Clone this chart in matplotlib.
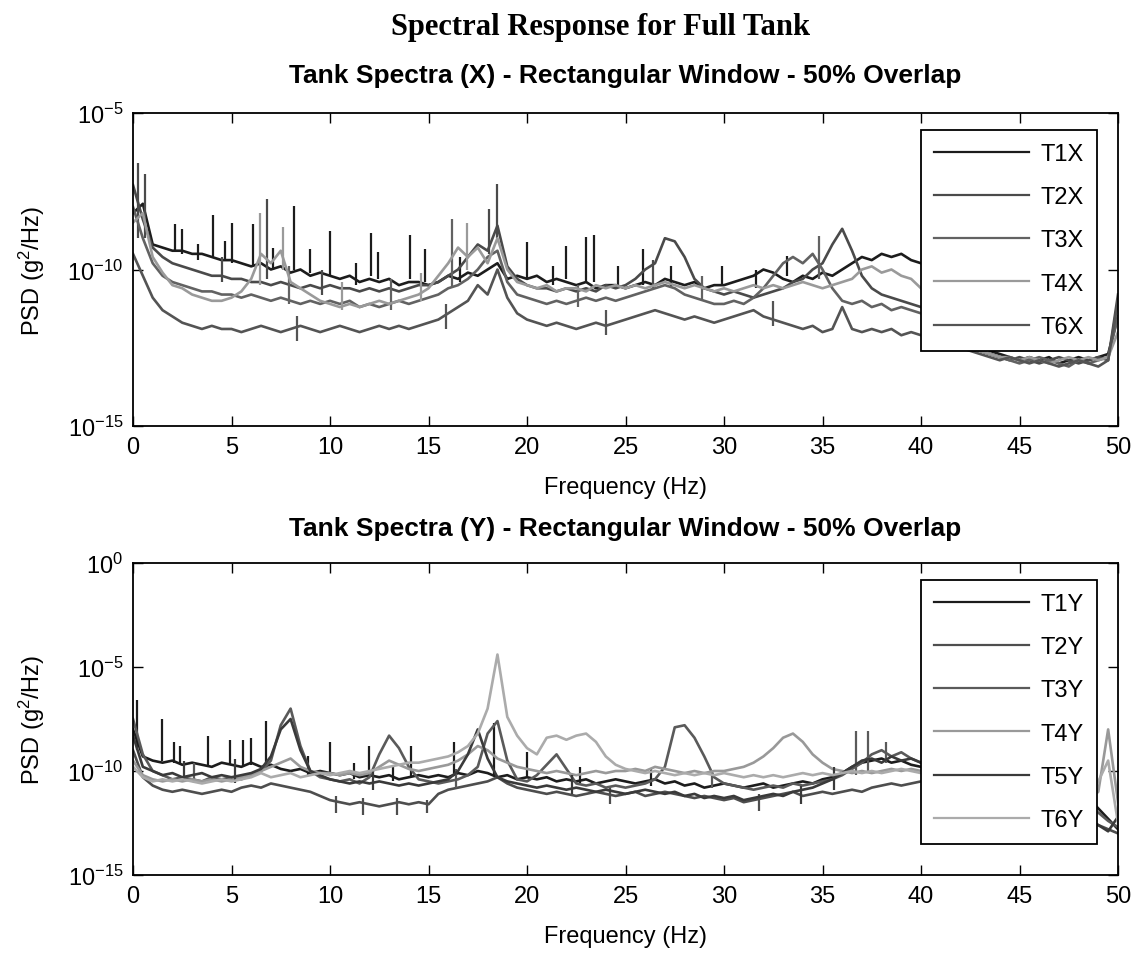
import numpy as np
import matplotlib.pyplot as plt

plt.rcParams['font.family'] = ['Liberation Sans', 'DejaVu Sans']
plt.rcParams['mathtext.default'] = 'regular'

# frequency grid (Hz), values are log10 PSD (g^2/Hz)
freq = np.linspace(0, 50, 101)

T1X = [-8.2, -7.9, -9.2, -9.3, -9.4, -9.4, -9.5, -9.5, -9.6, -9.7,
       -9.7, -9.8, -9.9, -9.8, -10.0, -9.9, -10.1, -10.0, -10.2, -10.1,
       -10.2, -10.3, -10.2, -10.4, -10.3, -10.4, -10.3, -10.5, -10.4, -10.4,
       -10.5, -10.4, -10.2, -10.3, -10.1, -10.2, -10.0, -9.8, -10.3, -10.2,
       -10.3, -10.2, -10.4, -10.3, -10.4, -10.5, -10.4, -10.6, -10.5, -10.5,
       -10.6, -10.5, -10.4, -10.5, -10.3, -10.4, -10.5, -10.4, -10.6, -10.5,
       -10.5, -10.4, -10.3, -10.2, -10.0, -10.1, -10.3, -10.4, -10.2, -10.3,
       -10.1, -10.2, -10.0, -9.8, -9.6, -9.7, -9.5, -9.6, -9.5, -9.7,
       -9.8, -10.0, -10.4, -10.9, -11.5, -12.0, -12.4, -12.6, -12.7, -12.8,
       -12.9, -12.8, -12.9, -12.8, -13.0, -12.9, -12.8, -12.9, -12.8, -12.7,
       -11.5]
T2X = [-7.3, -8.4, -9.3, -9.6, -9.8, -9.9, -10.0, -10.1, -10.2, -10.2,
       -10.3, -10.3, -10.4, -10.4, -10.5, -10.4, -10.5, -10.6, -10.5, -10.6,
       -10.5, -10.6, -10.6, -10.7, -10.6, -10.7, -10.6, -10.7, -10.6, -10.5,
       -10.5, -10.4, -10.2, -10.0, -9.6, -9.2, -9.4, -8.6, -9.9, -10.3,
       -10.5, -10.6, -10.6, -10.7, -10.6, -10.7, -10.6, -10.7, -10.5, -10.6,
       -10.5, -10.3, -10.0, -9.8, -9.0, -9.1, -9.6, -10.3, -10.6, -10.7,
       -10.8, -10.7, -10.8, -10.9, -10.8, -10.7, -10.6, -10.4, -10.3, -10.0,
       -9.8, -9.2, -8.7, -9.4, -10.2, -10.6, -10.8, -10.9, -11.0, -11.1,
       -11.2, -11.4, -11.6, -11.9, -12.2, -12.4, -12.6, -12.7, -12.8, -12.9,
       -12.8, -12.9, -13.0, -12.9, -12.8, -12.9, -13.0, -12.9, -12.8, -12.9,
       -10.8]
T3X = [-8.0, -9.0, -9.8, -10.2, -10.4, -10.5, -10.6, -10.7, -10.7, -10.8,
       -10.8, -10.9, -10.8, -10.9, -11.0, -10.9, -11.0, -11.1, -11.0, -11.1,
       -11.0, -11.1, -11.0, -11.2, -11.1, -11.2, -11.1, -11.0, -11.1, -11.0,
       -10.9, -10.8, -10.6, -10.5, -10.3, -10.0, -9.6, -9.4, -10.4, -10.8,
       -10.9, -11.0, -11.1, -11.0, -11.1, -11.0, -10.9, -11.0, -10.9, -11.0,
       -10.9, -10.8, -10.7, -10.6, -10.5, -10.6, -10.8, -10.9, -11.0, -11.1,
       -11.1, -11.0, -11.1, -10.9, -10.6, -10.2, -9.8, -9.6, -9.8, -9.5,
       -10.0, -10.6, -11.0, -11.1, -11.0, -11.2, -11.1, -11.3, -11.2, -11.3,
       -11.4, -11.6, -11.9, -12.1, -12.3, -12.5, -12.6, -12.7, -12.8, -12.9,
       -13.0, -12.9, -12.8, -12.9, -13.0, -13.1, -12.9, -13.0, -12.9, -12.8,
       -11.5]
T4X = [-8.5, -8.2, -9.6, -10.1, -10.5, -10.6, -10.8, -10.9, -11.0, -11.0,
       -10.9, -10.7, -10.3, -9.5, -9.8, -9.4, -10.4, -10.6, -10.8, -11.0,
       -11.1, -11.2, -11.1, -11.2, -11.1, -11.0, -11.1, -11.0, -10.9, -10.8,
       -10.6, -10.2, -9.8, -9.3, -9.6, -9.3, -9.8, -9.0, -10.0, -10.4,
       -10.5, -10.6, -10.5, -10.7, -10.6, -10.6, -10.7, -10.5, -10.6, -10.5,
       -10.6, -10.5, -10.6, -10.5, -10.4, -10.5, -10.6, -10.5, -10.6, -10.7,
       -10.6, -10.7, -10.6, -10.5, -10.6, -10.5, -10.6, -10.5, -10.4, -10.5,
       -10.6, -10.5, -10.4, -10.3, -10.0, -9.9, -10.1, -10.0, -10.2, -10.3,
       -10.6, -11.0, -11.4, -11.8, -12.1, -12.4, -12.6, -12.7, -12.8, -12.8,
       -12.9, -12.8, -12.9, -13.0, -12.9, -12.8, -12.9, -12.8, -12.9, -12.8,
       -12.0]
T6X = [-9.5, -10.2, -10.9, -11.3, -11.5, -11.7, -11.8, -11.9, -11.8, -11.9,
       -11.9, -12.0, -11.9, -11.8, -11.9, -12.0, -11.9, -11.8, -11.9, -12.0,
       -11.9, -11.8, -11.9, -12.0, -11.9, -11.8, -11.9, -11.8, -11.9, -11.8,
       -11.7, -11.6, -11.4, -11.2, -11.0, -10.5, -10.8, -10.0, -10.9, -11.4,
       -11.6, -11.7, -11.8, -11.7, -11.8, -11.9, -11.8, -11.7, -11.8, -11.7,
       -11.6, -11.5, -11.4, -11.3, -11.4, -11.5, -11.6, -11.5, -11.6, -11.7,
       -11.6, -11.5, -11.4, -11.3, -11.5, -11.6, -11.7, -11.8, -11.9, -11.8,
       -12.0, -11.9, -11.2, -11.9, -12.0, -11.9, -12.0, -11.9, -12.1, -12.0,
       -12.1, -12.2, -12.3, -12.4, -12.5, -12.6, -12.7, -12.8, -12.9, -12.8,
       -12.9, -13.0, -12.9, -13.0, -13.1, -13.0, -12.9, -13.0, -13.1, -12.9,
       -11.0]

# narrow spikes: (freq, low, high) in log10
T1X_spikes = [(2.13, -9.4, -8.55), (2.5, -9.5, -8.7), (4.06, -9.6, -8.26), (4.67, -9.7, -9.1),
              (5.0, -9.8, -8.5), (6.1, -9.9, -8.55), (8.17, -10.0, -7.97), (9.0, -10.1, -9.35),
              (10.0, -10.2, -8.77), (12.1, -10.2, -8.83), (12.45, -10.3, -9.45), (14.06, -10.3, -8.9),
              (14.8, -10.4, -9.35), (20.0, -10.3, -9.12), (22.0, -10.3, -9.25), (23.0, -10.4, -8.97),
              (23.4, -10.4, -8.9), (24.6, -10.5, -9.9), (25.9, -10.5, -9.35), (29.9, -10.5, -9.9),
              (33.2, -10.2, -9.56), (3.3, -9.7, -9.2), (7.1, -10.0, -9.3), (11.3, -10.5, -9.8),
              (16.6, -10.4, -9.6), (21.3, -10.5, -9.9), (27.3, -10.6, -9.9), (31.6, -10.6, -10.0)]
T2X_spikes = [(0.25, -9.0, -6.6), (0.6, -9.0, -6.95), (6.8, -10.3, -7.75), (18.07, -9.5, -8.07),
              (18.5, -9.0, -7.27), (4.5, -10.4, -9.6), (9.6, -10.8, -10.0), (26.4, -10.6, -9.7)]
T3X_spikes = [(34.8, -10.3, -8.93), (16.2, -10.6, -8.39), (7.9, -11.1, -9.9), (13.1, -11.3, -10.3),
              (22.6, -11.2, -10.5), (28.9, -11.0, -10.2)]
T4X_spikes = [(6.45, -10.5, -8.2), (7.6, -10.0, -8.65), (16.95, -10.0, -8.5), (10.6, -11.3, -10.4),
              (14.6, -11.0, -10.1)]
T6X_spikes = [(8.3, -12.3, -11.5), (15.9, -11.9, -11.1), (24.0, -12.1, -11.3), (32.5, -11.8, -11.0)]

T1Y = [-8.0, -9.3, -9.5, -9.6, -9.5, -9.7, -9.6, -9.7, -9.8, -9.6,
       -9.7, -9.8, -9.6, -9.8, -9.7, -9.9, -10.0, -9.9, -10.1, -10.0,
       -10.1, -10.2, -10.1, -10.3, -10.2, -10.3, -10.2, -10.4, -10.3, -10.2,
       -10.3, -10.2, -10.3, -10.1, -10.2, -10.0, -10.1, -10.3, -10.2, -10.4,
       -10.3, -10.4, -10.3, -10.5, -10.4, -10.5, -10.4, -10.6, -10.5, -10.4,
       -10.5, -10.6, -10.5, -10.4, -10.6, -10.5, -10.7, -10.6, -10.8, -10.7,
       -10.6, -10.7, -10.8, -10.7, -10.6, -10.8, -10.7, -10.6, -10.5, -10.6,
       -10.4, -10.3, -10.1, -9.8, -9.6, -9.5, -9.4, -9.6, -9.5, -9.7,
       -9.8, -9.7, -9.9, -10.0, -9.9, -10.1, -10.0, -10.2, -10.1, -10.3,
       -10.2, -10.4, -10.3, -10.5, -10.6, -10.8, -11.0, -11.3, -11.8, -12.3,
       -12.8]
T2Y = [-9.0, -10.3, -10.7, -10.9, -11.0, -10.9, -11.0, -11.1, -11.0, -10.9,
       -11.0, -10.8, -10.7, -10.8, -10.6, -10.7, -10.8, -10.9, -11.0, -11.2,
       -11.4, -11.5, -11.6, -11.5, -11.6, -11.7, -11.6, -11.5, -11.6, -11.5,
       -11.6, -11.1, -10.9, -10.8, -10.7, -10.6, -10.5, -10.3, -10.6, -10.8,
       -10.9, -11.0, -11.1, -11.0, -11.1, -11.2, -11.1, -11.0, -11.1, -11.2,
       -11.1, -11.0, -11.2, -11.1, -11.0, -11.1, -11.2, -11.3, -11.2, -11.3,
       -11.4, -11.3, -11.5, -11.4, -11.3, -11.2, -11.1, -11.0, -11.2, -11.1,
       -11.0, -11.1, -11.0, -10.9, -11.0, -10.8, -10.7, -10.6, -10.7, -10.6,
       -10.5, -10.6, -10.7, -10.8, -10.9, -11.0, -11.1, -11.2, -11.3, -11.4,
       -11.5, -11.6, -11.7, -11.8, -11.9, -12.0, -12.2, -12.4, -12.6, -12.8,
       -13.0]
T3Y = [-7.5, -9.2, -10.0, -10.2, -10.4, -10.3, -10.4, -10.5, -10.3, -10.4,
       -10.3, -10.4, -10.2, -10.0, -9.5, -7.8, -7.0, -8.8, -10.0, -10.3,
       -10.4, -10.5, -10.4, -10.6, -10.3, -9.2, -8.3, -8.9, -9.8, -10.4,
       -10.5, -10.6, -10.5, -10.4, -10.2, -9.8, -8.2, -7.6, -9.5, -10.4,
       -10.5, -10.2, -9.7, -9.2, -9.9, -10.6, -10.7, -10.6, -10.8, -10.7,
       -10.8, -10.7, -10.6, -10.4, -9.8, -7.9, -7.8, -8.4, -9.3, -10.3,
       -10.6, -10.7, -10.8, -10.9, -10.8, -10.7, -10.8, -10.6, -10.7, -10.6,
       -10.5, -10.4, -10.2, -9.9, -9.6, -9.2, -9.0, -9.3, -9.1, -9.4,
       -9.6, -9.8, -9.9, -10.1, -10.2, -10.3, -10.4, -10.5, -10.6, -10.7,
       -10.8, -10.9, -11.0, -11.1, -11.2, -11.3, -11.5, -11.7, -12.0, -12.4,
       -12.7]
T4Y = [-9.5, -10.2, -10.4, -10.5, -10.4, -10.5, -10.4, -10.5, -10.4, -10.5,
       -10.4, -10.3, -10.2, -10.0, -9.8, -9.6, -9.4, -9.8, -10.0, -10.1,
       -10.1, -10.2, -10.1, -10.2, -10.1, -9.8, -9.5, -9.7, -9.9, -10.0,
       -9.9, -9.8, -9.7, -9.5, -9.2, -8.8, -9.0, -9.4, -9.6, -9.8,
       -9.9, -10.0, -10.1, -10.0, -10.1, -10.2, -10.1, -10.0, -10.1, -10.0,
       -10.0, -9.9, -10.0, -9.8, -9.9, -10.0, -10.1, -10.0, -10.1, -10.0,
       -10.0, -9.9, -9.8, -9.6, -9.3, -8.9, -8.4, -8.2, -8.6, -9.2,
       -9.6, -9.9, -10.0, -10.1, -10.0, -10.1, -10.0, -9.9, -10.0, -9.9,
       -10.0, -9.9, -10.0, -10.1, -10.2, -10.1, -10.2, -10.3, -10.2, -10.4,
       -10.5, -10.6, -10.7, -10.8, -10.9, -11.0, -11.2, -11.4, -11.0, -8.0,
       -11.5]
T5Y = [-8.3, -9.8, -10.0, -10.2, -10.1, -10.3, -10.2, -10.1, -10.3, -10.2,
       -10.3, -10.2, -10.1, -9.9, -9.3, -8.0, -7.5, -9.0, -10.0, -10.2,
       -10.4, -10.5, -10.6, -10.5, -10.6, -10.5, -10.6, -10.7, -10.6, -10.7,
       -10.6, -10.5, -10.4, -10.0, -9.2, -8.0, -9.4, -10.3, -10.5, -10.6,
       -10.7, -10.8, -10.7, -10.8, -10.9, -10.8, -10.9, -11.0, -10.9, -11.0,
       -11.1, -11.0, -10.9, -11.0, -11.1, -11.0, -11.2, -11.1, -11.3, -11.2,
       -11.3, -11.2, -11.4, -11.3, -11.2, -11.1, -11.2, -11.0, -10.9, -10.8,
       -10.6, -10.4, -10.1, -9.8, -9.5, -9.4, -9.6, -9.3, -9.5, -9.4,
       -9.6, -9.8, -9.9, -10.0, -10.2, -10.3, -10.4, -10.6, -10.7, -10.9,
       -11.0, -11.2, -11.3, -11.5, -11.6, -11.8, -12.0, -12.3, -12.6, -12.9,
       -12.2]
T6Y = [-9.8, -10.3, -10.5, -10.4, -10.5, -10.4, -10.5, -10.6, -10.5, -10.4,
       -10.5, -10.4, -10.3, -10.1, -10.3, -10.2, -10.1, -10.3, -10.2, -10.1,
       -10.2, -10.1, -10.0, -10.1, -10.0, -9.9, -9.8, -9.7, -9.6, -9.6,
       -9.5, -9.4, -9.3, -9.1, -8.8, -8.2, -7.0, -4.4, -7.4, -8.3,
       -8.9, -9.2, -8.4, -8.3, -8.5, -8.3, -8.2, -8.6, -9.3, -9.7,
       -9.9, -10.0, -10.1, -10.0, -10.1, -10.2, -10.1, -10.2, -10.1, -10.2,
       -10.1, -10.2, -10.3, -10.2, -10.3, -10.2, -10.3, -10.2, -10.1, -10.2,
       -10.1, -10.2, -10.1, -10.0, -10.1, -10.0, -10.1, -10.0, -9.9, -10.0,
       -10.1, -10.0, -10.1, -10.2, -10.1, -10.2, -10.3, -10.2, -10.4, -10.5,
       -10.6, -10.7, -10.8, -10.9, -11.0, -11.1, -11.2, -11.3, -10.5, -9.5,
       -12.5]

T1Y_spikes = [(0.2, -9.0, -6.6), (1.47, -9.5, -7.5), (2.1, -9.6, -8.6), (2.4, -9.6, -8.8),
              (3.8, -9.7, -8.3), (4.9, -9.7, -8.5), (5.6, -9.8, -8.5), (6.0, -9.7, -8.4),
              (6.75, -9.9, -7.6), (10.0, -10.1, -8.6), (12.0, -10.2, -8.8), (14.1, -10.3, -8.8),
              (16.3, -10.2, -8.6), (18.3, -10.2, -7.7), (20.0, -10.3, -9.1), (8.9, -10.2, -9.3),
              (11.2, -10.4, -9.6), (13.2, -10.5, -9.7), (22.7, -10.6, -9.8), (26.3, -10.7, -9.9)]
T2Y_spikes = [(10.3, -12.0, -11.2), (11.7, -12.1, -11.3), (13.4, -12.1, -11.3), (14.9, -12.0, -11.4),
              (24.2, -11.6, -10.8), (31.8, -11.9, -11.1)]
T3Y_spikes = [(36.7, -10.2, -8.1), (37.3, -10.0, -8.1), (38.2, -9.6, -8.6), (3.1, -10.6, -9.6),
              (16.4, -10.8, -9.9), (29.4, -10.8, -10.0)]
T4Y_spikes = []
T5Y_spikes = [(2.6, -10.5, -9.5), (5.2, -10.6, -9.4), (12.2, -10.9, -10.0), (22.3, -11.1, -10.2),
              (33.9, -11.6, -10.7), (35.6, -10.9, -9.8)]
T6Y_spikes = []

x_names = ['T1X', 'T2X', 'T3X', 'T4X', 'T6X']
x_data = [T1X, T2X, T3X, T4X, T6X]
x_spikes = [T1X_spikes, T2X_spikes, T3X_spikes, T4X_spikes, T6X_spikes]
x_colors = ['#1c1c1c', '#4a4a4a', '#626262', '#9a9a9a', '#545454']

y_names = ['T1Y', 'T2Y', 'T3Y', 'T4Y', 'T5Y', 'T6Y']
y_data = [T1Y, T2Y, T3Y, T4Y, T5Y, T6Y]
y_spikes = [T1Y_spikes, T2Y_spikes, T3Y_spikes, T4Y_spikes, T5Y_spikes, T6Y_spikes]
y_colors = ['#1c1c1c', '#4e4e4e', '#5a5a5a', '#999999', '#3a3a3a', '#ababab']

fig = plt.figure(figsize=(11.4, 9.62), dpi=100)
ax1 = fig.add_axes([133/1140, 1-427/962, 985/1140, 313/962])
ax2 = fig.add_axes([133/1140, 1-876/962, 985/1140, 312/962])

fig.text(0.527, 0.971, 'Spectral Response for Full Tank', ha='center', va='center',
         family='Liberation Serif', fontweight='bold', fontsize=22)


def draw(ax, names, data, spikes, colors, yticks, title, tpad):
    for name, d, sp, c in zip(names, data, spikes, colors):
        ax.plot(freq, 10**np.array(d), color=c, lw=1.9, label=name)
        for f, lo, hi in sp:
            ax.vlines(f, 10**lo, 10**hi, color=c, lw=1.6)
    ax.set_yscale('log')
    ax.set_xlim(0, 50)
    ax.set_ylim(yticks[0], yticks[-1])
    ax.set_yticks(yticks)
    ax.minorticks_off()
    ax.set_xticks(range(0, 51, 5))
    ax.tick_params(direction='in', length=7, width=1, top=True, right=True,
                   labelsize=17, pad=7)
    for s in ax.spines.values():
        s.set_linewidth(1.3)
    ax.set_xlabel('Frequency (Hz)', fontsize=17, labelpad=13)
    ax.set_ylabel('PSD (g$^2$/Hz)', fontsize=17)
    ax.yaxis.set_label_coords(-0.087, 0.5)
    ax.set_title(title, fontsize=19, fontweight='bold', pad=tpad)
    leg = ax.legend(loc='upper right', bbox_to_anchor=(0.9787, 0.9457), borderaxespad=0,
                    fontsize=17, handlelength=4.0, handletextpad=0.5, labelspacing=0.9,
                    borderpad=0.55, fancybox=False, framealpha=1, edgecolor='black')
    leg.get_frame().set_linewidth(1.3)
    for line in leg.get_lines():
        line.set_linewidth(1.6)


draw(ax1, x_names, x_data, x_spikes, x_colors, [1e-15, 1e-10, 1e-5],
     'Tank Spectra (X) - Rectangular Window - 50% Overlap', 22)
draw(ax2, y_names, y_data, y_spikes, y_colors, [1e-15, 1e-10, 1e-5, 1e0],
     'Tank Spectra (Y) - Rectangular Window - 50% Overlap', 20)

plt.savefig('out.png', dpi=100)
